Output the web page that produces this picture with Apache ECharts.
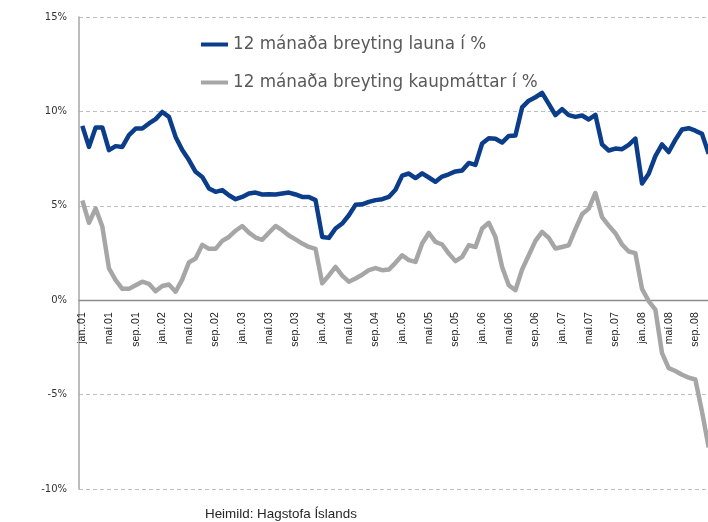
<!DOCTYPE html>
<html>
<head>
<meta charset="utf-8">
<script src="https://cdn.jsdelivr.net/npm/echarts@6/dist/echarts.min.js"></script>
<style>
html,body{margin:0;padding:0;background:#fff;}
#chart{width:708px;height:522px;}
</style>
</head>
<body>
<div id="chart"></div>
<script>
// Month abbreviations (Icelandic) and years; categories built as "jan..01", "maí.01", ...
var monthNames = ['jan.', 'feb.', 'mar.', 'apr.', 'maí', 'jún.', 'júl.', 'ágú.', 'sep.', 'okt.', 'nóv.', 'des.'];
var years = ['01', '02', '03', '04', '05', '06', '07', '08'];
var lastMonthIndex2008 = 10; // nóv. 2008

var seriesNames = ['12 mánaða breyting launa í %', '12 mánaða breyting kaupmáttar í %'];

// 12-month change in wages (%)
var launa = [
  9.23, 8.12, 9.15, 9.15, 7.95, 8.16, 8.12, 8.74, 9.09, 9.09, 9.36, 9.59,
  9.97, 9.71, 8.65, 7.95, 7.42, 6.80, 6.53, 5.92, 5.74, 5.83, 5.56, 5.35,
  5.47, 5.65, 5.70, 5.60, 5.61, 5.60, 5.65, 5.70, 5.60, 5.47, 5.47, 5.30,
  3.35, 3.30, 3.80, 4.06, 4.50, 5.05, 5.08, 5.21, 5.30, 5.35, 5.47, 5.85,
  6.60, 6.71, 6.47, 6.72, 6.50, 6.27, 6.55, 6.67, 6.82, 6.87, 7.27, 7.17,
  8.30, 8.58, 8.55, 8.35, 8.70, 8.72, 10.21, 10.57, 10.75, 10.98, 10.40, 9.80,
  10.12, 9.80, 9.71, 9.78, 9.57, 9.82, 8.25, 7.93, 8.03, 8.00, 8.23, 8.56,
  6.18, 6.70, 7.63, 8.25, 7.85, 8.49, 9.04, 9.11, 8.98, 8.81, 7.75
];

// 12-month change in purchasing power (%)
var kaupmattar = [
  5.28, 4.10, 4.86, 3.90, 1.68, 1.06, 0.60, 0.60, 0.79, 0.98, 0.87, 0.48,
  0.75, 0.83, 0.45, 1.10, 2.00, 2.21, 2.93, 2.72, 2.72, 3.14, 3.35, 3.68,
  3.93, 3.58, 3.32, 3.20, 3.57, 3.93, 3.71, 3.43, 3.22, 3.00, 2.82, 2.72,
  0.90, 1.31, 1.76, 1.30, 0.98, 1.15, 1.35, 1.59, 1.70, 1.59, 1.62, 1.98,
  2.38, 2.12, 2.03, 3.00, 3.56, 3.09, 2.95, 2.47, 2.07, 2.29, 2.91, 2.82,
  3.80, 4.10, 3.35, 1.76, 0.79, 0.53, 1.63, 2.38, 3.14, 3.62, 3.30, 2.74,
  2.82, 2.91, 3.76, 4.55, 4.85, 5.68, 4.40, 3.95, 3.55, 2.95, 2.58, 2.49,
  0.60, -0.05, -0.50, -2.80, -3.60, -3.75, -3.95, -4.10, -4.20, -5.90, -7.80
];

var yTicks = [-10, -5, 0, 5, 10, 15];
var sourceText = 'Heimild: Hagstofa Íslands';

var categories = [];
years.forEach(function (y, yi) {
  var last = (yi === years.length - 1) ? lastMonthIndex2008 : 11;
  for (var m = 0; m <= last; m++) {
    categories.push(monthNames[m] + '.' + y);
  }
});

var blue = '#0b3d8a';
var grey = '#a6a6a6';

var gridTop = 17, gridBottom = 33, chartH = 522;
var plotH = chartH - gridTop - gridBottom;
var yMin = yTicks[0], yMax = yTicks[yTicks.length - 1];
// move the category axis (line + labels) up to the 0% line
var zeroOffset = -plotH * (0 - yMin) / (yMax - yMin);

var chart = echarts.init(document.getElementById('chart'), null, {renderer: 'canvas'});
chart.setOption({
  animation: false,
  backgroundColor: '#ffffff',
  grid: {left: 79, right: -4, top: gridTop, bottom: gridBottom, containLabel: false, outerBoundsMode: 'none'},
  legend: {
    orient: 'vertical',
    left: 196,
    top: 31,
    itemWidth: 27,
    itemHeight: 4,
    itemGap: 21,
    textStyle: {fontFamily: 'DejaVu Sans', fontSize: 16.8, color: '#595959', lineHeight: 17},
    data: [
      {name: seriesNames[0], icon: 'rect', itemStyle: {color: blue}},
      {name: seriesNames[1], icon: 'rect', itemStyle: {color: grey}}
    ]
  },
  xAxis: {
    type: 'category',
    data: categories,
    boundaryGap: true,
    position: 'bottom',
    offset: zeroOffset,
    axisLine: {onZero: false, lineStyle: {color: '#8c8c8c', width: 1.3}},
    axisTick: {show: false},
    axisLabel: {
      interval: 3,
      rotate: 90,
      margin: 12,
      fontFamily: 'Liberation Sans',
      fontSize: 10.5,
      color: '#1a1a1a'
    },
    splitLine: {show: false}
  },
  yAxis: {
    type: 'value',
    min: yMin,
    max: yMax,
    interval: 5,
    axisLine: {show: true, lineStyle: {color: '#a6a6a6', width: 1.5}},
    axisTick: {show: false},
    axisLabel: {
      formatter: '{value}%',
      margin: 12,
      fontFamily: 'DejaVu Sans',
      fontSize: 10,
      color: '#333333'
    },
    splitLine: {show: true, lineStyle: {color: '#bfbfbf', type: [4, 3], width: 1}}
  },
  series: [
    {
      name: seriesNames[0],
      type: 'line',
      data: launa,
      symbol: 'none',
      lineStyle: {color: blue, width: 4.5, join: 'round'},
      itemStyle: {color: blue},
      z: 3
    },
    {
      name: seriesNames[1],
      type: 'line',
      data: kaupmattar,
      symbol: 'none',
      lineStyle: {color: grey, width: 4.5, join: 'round'},
      itemStyle: {color: grey},
      z: 2
    }
  ],
  graphic: [
    {
      type: 'text',
      left: 205,
      top: 508,
      style: {
        text: sourceText,
        fontFamily: 'Liberation Sans',
        fontSize: 13.4,
        fill: '#262626'
      }
    }
  ]
});
</script>
</body>
</html>
